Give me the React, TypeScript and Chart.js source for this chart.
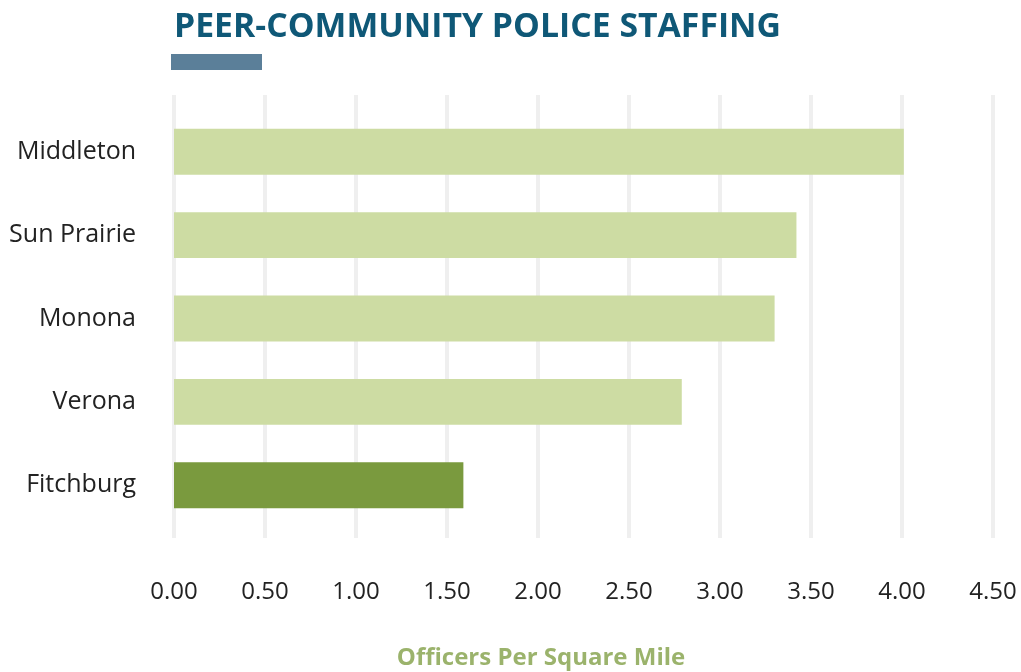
import React, { useEffect, useRef } from "react";
import { Chart, registerables } from "chart.js";

Chart.register(...registerables);

const categories = ["Middleton", "Sun Prairie", "Monona", "Verona", "Fitchburg"];
const officersPerSqMile = [4.01, 3.42, 3.3, 2.79, 1.59];
const barColors = ["#cddca3", "#cddca3", "#cddca3", "#cddca3", "#7a9a3e"];
const xMin = 0;
const xMax = 4.5;
const xStep = 0.5;
const titleText = "PEER-COMMUNITY POLICE STAFFING";
const axisTitleText = "Officers Per Square Mile";

const FONT = "'Open Sans', 'Noto Sans', sans-serif";

const gridPlugin = {
  id: "customGrid",
  beforeDatasetsDraw(chart: any) {
    const { ctx, chartArea, scales } = chart;
    const xs = scales.x;
    ctx.save();
    ctx.strokeStyle = "#efefef";
    ctx.lineWidth = 4;
    xs.ticks.forEach((t: any) => {
      const px = xs.getPixelForValue(t.value);
      ctx.beginPath();
      ctx.moveTo(px, chartArea.top - 15);
      ctx.lineTo(px, chartArea.bottom + 11);
      ctx.stroke();
    });
    ctx.restore();
  },
};

const headerPlugin = {
  id: "header",
  afterDraw(chart: any) {
    const { ctx } = chart;
    ctx.save();
    ctx.fillStyle = "#0f5877";
    ctx.font = `bold 34px ${FONT}`;
    ctx.textBaseline = "alphabetic";
    ctx.textAlign = "left";
    const w = ctx.measureText(titleText).width;
    ctx.translate(174, 37);
    ctx.scale(607 / w, 1);
    ctx.fillText(titleText, 0, 0);
    ctx.restore();
    ctx.save();
    ctx.fillStyle = "#5b7f99";
    ctx.fillRect(171, 54, 91, 16);
    ctx.fillStyle = "#9bb36c";
    ctx.font = `bold 24px ${FONT}`;
    ctx.textAlign = "center";
    ctx.textBaseline = "alphabetic";
    ctx.fillText(axisTitleText, 541, 665);
    ctx.restore();
  },
};

export default function App() {
  const ref = useRef<HTMLCanvasElement | null>(null);
  useEffect(() => {
    if (!ref.current) return;
    const chart = new Chart(ref.current, {
      type: "bar",
      data: {
        labels: categories,
        datasets: [
          {
            data: officersPerSqMile,
            backgroundColor: barColors,
            borderWidth: 0,
            categoryPercentage: 1,
            barPercentage: 0.55,
          },
        ],
      },
      options: {
        indexAxis: "y",
        animation: false,
        responsive: false,
        maintainAspectRatio: false,
        layout: { padding: { top: 110, right: 28, bottom: 0, left: 0 } },
        plugins: {
          legend: { display: false },
          tooltip: { enabled: false },
          title: { display: false },
        },
        scales: {
          x: {
            min: xMin,
            max: xMax,
            grid: { display: false, drawTicks: false },
            border: { display: false },
            ticks: {
              stepSize: xStep,
              padding: 51,
              color: "#222222",
              font: { family: FONT, size: 24 },
              callback: (v: any) => Number(v).toFixed(2),
              maxRotation: 0,
              autoSkip: false,
            },
            title: { display: false },
            afterFit: (s: any) => {
              s.height = 145;
              s.paddingLeft = 0;
              s.paddingRight = 0;
            },
          },
          y: {
            grid: { display: false, drawTicks: false },
            border: { display: false },
            ticks: {
              padding: 38,
              color: "#222222",
              font: { family: FONT, size: 25 },
            },
            afterFit: (s: any) => {
              s.width = 174;
              s.paddingTop = 0;
              s.paddingBottom = 0;
            },
          },
        },
      },
      plugins: [gridPlugin, headerPlugin],
    });
    return () => chart.destroy();
  }, []);
  return (
    <div style={{ position: "absolute", left: 0, top: 0, width: 1021, height: 672, background: "#ffffff" }}>
      <canvas ref={ref} width={1021} height={672} style={{ display: "block" }} />
    </div>
  );
}
